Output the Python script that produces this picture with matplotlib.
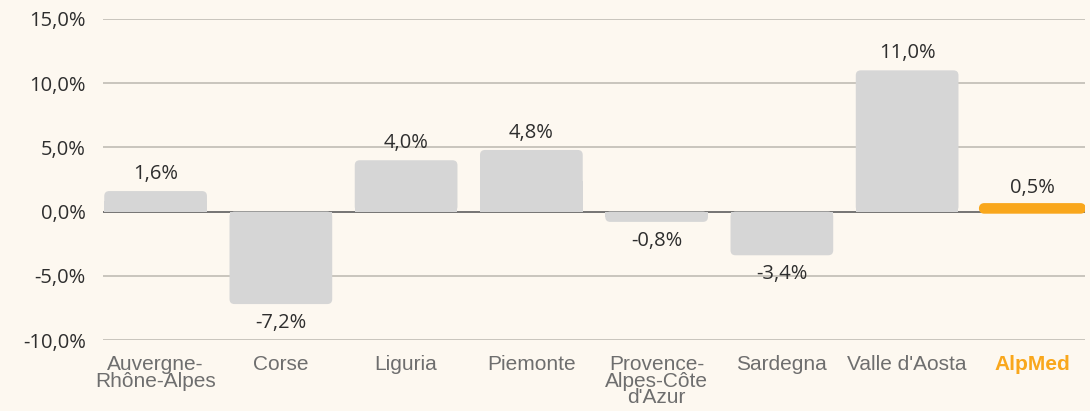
import matplotlib
matplotlib.use("Agg")
import matplotlib.pyplot as plt
from matplotlib.patches import FancyBboxPatch, Rectangle

categories = ["Auvergne-\nRhône-Alpes", "Corse", "Liguria", "Piemonte",
              "Provence-\nAlpes-Côte\nd'Azur", "Sardegna", "Valle d'Aosta", "AlpMed"]
values = [1.6, -7.2, 4.0, 4.8, -0.8, -3.4, 11.0, 0.5]
yticks = [-10, -5, 0, 5, 10, 15]

BG = "#fdf8f0"
GRAY = "#d6d6d6"
ORANGE = "#f9a71c"

fig = plt.figure(figsize=(10.9, 4.11), dpi=100, facecolor=BG)
ax = fig.add_axes([0.0945, 0.1727, 0.9009, 0.7811])
ax.set_facecolor(BG)

width = 0.82
xs = list(range(len(values)))
ax.set_xlim(-0.42, len(values) - 1 + 0.42)
ax.set_ylim(-10, 15)

for y in yticks:
    if y == 0:
        continue
    ax.axhline(y, color="#c9c5bd", lw=1.4, zorder=1)
ax.axhline(0, color="#5e5e5e", lw=1.2, zorder=1)

fig.canvas.draw()
bb = ax.get_window_extent()
px_x = bb.width / (ax.get_xlim()[1] - ax.get_xlim()[0])
px_y = bb.height / (ax.get_ylim()[1] - ax.get_ylim()[0])
aspect = px_x / px_y
r = 5.0 / px_x

for i, v in enumerate(values):
    is_total = categories[i] == "AlpMed"
    c = ORANGE if is_total else GRAY
    y0 = min(0, v)
    h = abs(v)
    rs = min(r, h / (2 * aspect) * 0.999)
    p = FancyBboxPatch((i - width / 2, y0), width, h,
                       boxstyle=f"round,pad=0,rounding_size={rs}",
                       mutation_aspect=aspect,
                       fc=c, ec=c if is_total else "none",
                       lw=3.0 if is_total else 0, joinstyle="round",
                       zorder=2)
    ax.add_patch(p)
    if not is_total:
        ax.add_patch(Rectangle((i - width / 2, min(0, v / 2)), width, h / 2,
                               fc=c, ec="none", zorder=2))
    lbl = f"{v:.1f}%".replace(".", ",")
    off = 12.5 if v >= 0 else -13.5
    ax.annotate(lbl, (i, v), xytext=(0, off), textcoords="offset points",
                ha="center", va="center", fontsize=14.5, color="#2e2e2e",
                family="Open Sans")

ax.set_yticks(yticks)
ax.set_yticklabels([f"{t:.1f}%".replace(".", ",") for t in yticks],
                   fontsize=14.5, color="#2e2e2e", family="Open Sans")
ax.tick_params(axis="y", length=0, pad=12.5)
ax.set_xticks(xs)
ax.set_xticklabels(categories, fontsize=15, color="#6e6e6e",
                   family="Liberation Sans", linespacing=0.84, va="top")
ax.tick_params(axis="x", length=0, pad=11)
for t, name in zip(ax.get_xticklabels(), categories):
    if name == "AlpMed":
        t.set_color(ORANGE)
        t.set_fontweight("bold")
for s in ax.spines.values():
    s.set_visible(False)

fig.savefig("out.png", dpi=100, facecolor=BG)
